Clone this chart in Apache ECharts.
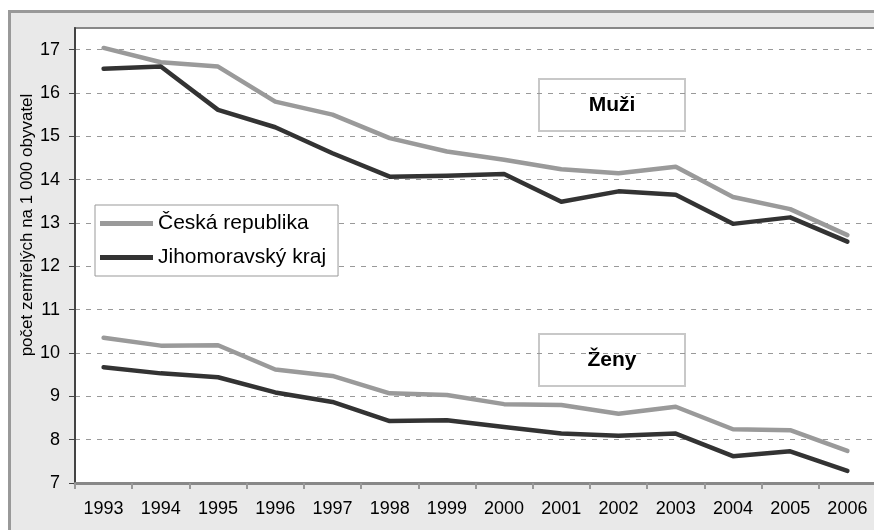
<!DOCTYPE html>
<html>
<head>
<meta charset="utf-8">
<script src="https://cdn.jsdelivr.net/npm/echarts@6/dist/echarts.min.js"></script>
<style>
  html, body { margin: 0; padding: 0; background: #fff; overflow: hidden; width: 874px; height: 530px; }
  #frame {
    position: absolute; left: 8px; top: 10px; width: 880px; height: 540px;
    background: #e9e9e9; border: 3px solid #999;
  }
  #wrap { position: absolute; left: 0; top: 0; width: 874px; height: 530px; overflow: hidden; }
  #chart { position: absolute; left: 0; top: 0; width: 874px; height: 530px; }
</style>
</head>
<body>
<div id="wrap">
<div id="frame"></div>
<div id="chart"></div>
</div>
<script>
const years = ["1993", "1994", "1995", "1996", "1997", "1998", "1999", "2000", "2001", "2002", "2003", "2004", "2005", "2006"];
const muziCR = [17.04, 16.71, 16.61, 15.8, 15.5, 14.96, 14.65, 14.46, 14.24, 14.15, 14.3, 13.6, 13.32, 12.72];
const muziJMK = [16.56, 16.61, 15.61, 15.21, 14.61, 14.07, 14.09, 14.13, 13.49, 13.73, 13.65, 12.98, 13.13, 12.57];
const zenyCR = [10.35, 10.17, 10.18, 9.62, 9.47, 9.07, 9.03, 8.82, 8.8, 8.6, 8.76, 8.24, 8.22, 7.74];
const zenyJMK = [9.67, 9.53, 9.44, 9.09, 8.87, 8.43, 8.45, 8.29, 8.14, 8.09, 8.14, 7.62, 7.73, 7.28];

const nameCR = "Česká republika";
const nameJMK = "Jihomoravský kraj";
const colorCR = "#9a9a9a";
const colorJMK = "#333333";
const font = "'Liberation Sans', Arial, sans-serif";

function lineSeries(name, data, color) {
  return {
    name: name,
    type: "line",
    data: data,
    showSymbol: false,
    symbol: "none",
    itemStyle: { color: color },
    lineStyle: { color: color, width: 4.5, cap: "round", join: "round" },
    emphasis: { disabled: true },
  };
}

function labelBox(text, y) {
  return {
    type: "group",
    left: 538,
    top: y,
    children: [
      {
        type: "rect",
        shape: { x: 0, y: 0, width: 146, height: 52 },
        style: { fill: "#fff", stroke: "#c8c8c8", lineWidth: 2 },
      },
      {
        type: "text",
        x: 73,
        y: 26,
        style: {
          text: text,
          font: "bold 21px " + font,
          fill: "#000",
          align: "center",
          verticalAlign: "middle",
        },
      },
    ],
  };
}

const chart = echarts.init(document.getElementById("chart"));
const option = {
  animation: false,
  backgroundColor: "transparent",
  textStyle: { fontFamily: font },
  grid: {
    show: true,
    left: 75,
    top: 28,
    right: -2,
    height: 455,
    backgroundColor: "#fff",
    borderWidth: 0,
    outerBoundsMode: "none",
  },
  legend: {
    data: [nameCR, nameJMK],
    orient: "vertical",
    left: 95,
    top: 205,
    icon: "rect",
    itemWidth: 53,
    itemHeight: 5,
    itemGap: 13,
    padding: [8, 12, 8, 5],
    backgroundColor: "#fff",
    borderColor: "#999",
    borderWidth: 1,
    borderRadius: 0,
    textStyle: { fontSize: 21, color: "#000", fontFamily: font },
    selectedMode: false,
  },
  xAxis: {
    type: "category",
    data: years,
    boundaryGap: true,
    axisLine: { lineStyle: { color: "#888", width: 3 } },
    axisTick: { show: true, length: 6, lineStyle: { color: "#999", width: 2 } },
    axisLabel: { color: "#000", fontSize: 18, margin: 17, fontFamily: font },
    splitLine: { show: false },
  },
  yAxis: {
    type: "value",
    min: 7,
    max: 17.5,
    interval: 1,
    axisLine: { show: true, lineStyle: { color: "#444", width: 2 } },
    axisTick: { show: true, length: 6, lineStyle: { color: "#444", width: 1 } },
    axisLabel: {
      color: "#000",
      fontSize: 18,
      margin: 15,
      fontFamily: font,
      showMaxLabel: false,
    },
    splitLine: {
      show: true,
      showMinLine: false,
      showMaxLine: false,
      lineStyle: { color: "#999", width: 1, type: [5, 6] },
    },
  },
  graphic: [
    {
      // top edge of the plot area
      type: "line",
      shape: { x1: 74, y1: 28, x2: 874, y2: 28 },
      style: { stroke: "#888", lineWidth: 2 },
    },
    {
      type: "text",
      x: 27,
      y: 225,
      rotation: Math.PI / 2,
      style: {
        text: "počet zemřelých na 1 000 obyvatel",
        font: "17px " + font,
        fill: "#000",
        align: "center",
        verticalAlign: "middle",
      },
    },
    labelBox("Muži", 78),
    labelBox("Ženy", 333),
  ],
  series: [
    lineSeries(nameCR, muziCR, colorCR),
    lineSeries(nameJMK, muziJMK, colorJMK),
    lineSeries(nameCR, zenyCR, colorCR),
    lineSeries(nameJMK, zenyJMK, colorJMK),
  ],
};
chart.setOption(option);
</script>
</body>
</html>
